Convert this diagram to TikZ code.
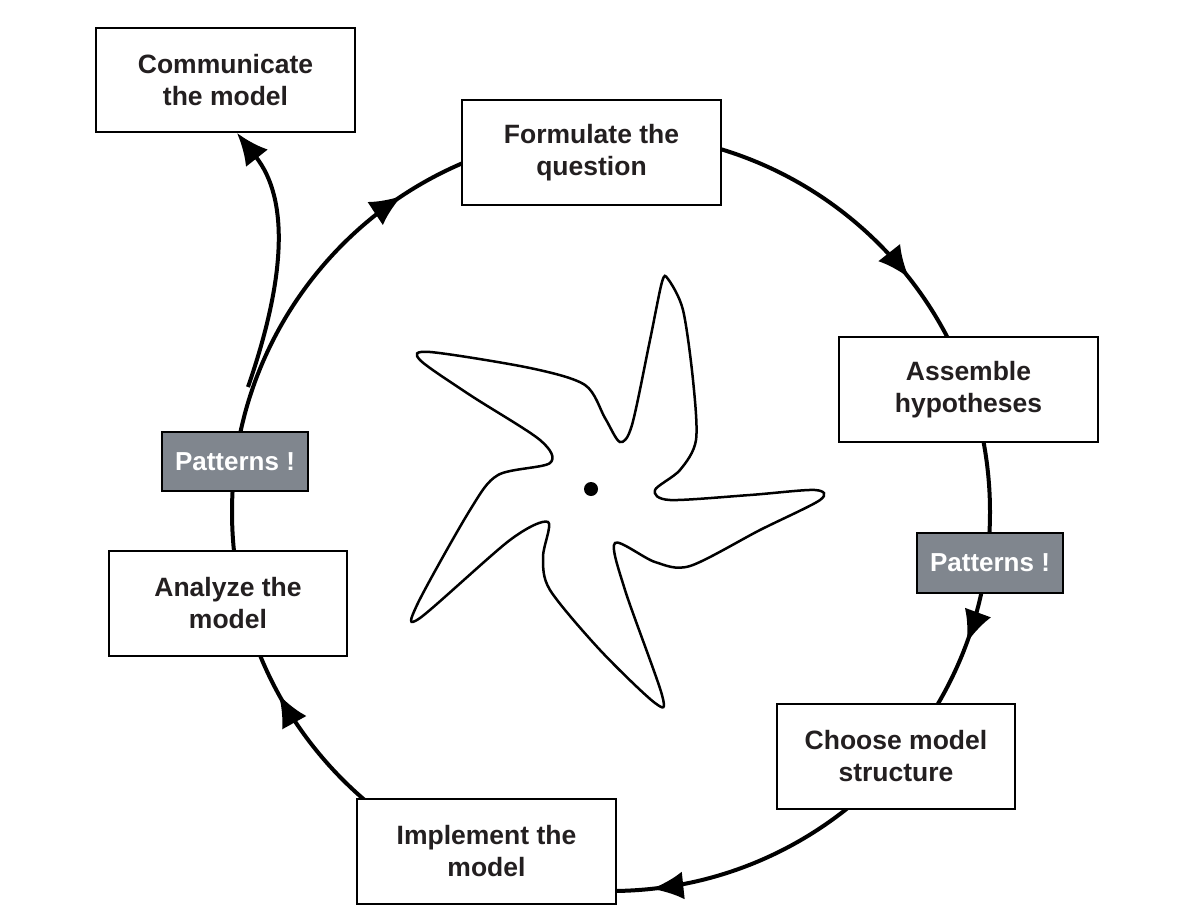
\documentclass[tikz,border=0pt]{standalone}
\usepackage{fontspec}
\setmainfont{Liberation Sans}
\usetikzlibrary{decorations.markings,arrows.meta}
\definecolor{pg}{RGB}{128,134,142}
\definecolor{tx}{RGB}{35,31,32}
\begin{document}
\begin{tikzpicture}[x=1pt,y=-1pt,
  box/.style={draw=black,line width=2pt,fill=white,align=center,text=tx,font=\fontsize{26.5}{32}\selectfont\bfseries,inner sep=0pt},
  pat/.style={draw=black,line width=2pt,fill=pg,text=white,font=\fontsize{26}{30}\selectfont\bfseries,inner sep=0pt},
  tip/.style={-{Latex[length=32pt,width=28pt]}},
  mk/.style={postaction={decorate},decoration={markings,
     mark=at position 0.056 with {\arrow{Latex[length=32pt,width=28pt]}},
     mark=at position 0.233 with {\arrow{Latex[length=32pt,width=28pt]}},
     mark=at position 0.42 with {\arrow{Latex[length=32pt,width=28pt]}},
     mark=at position 0.657 with {\arrow{Latex[length=32pt,width=28pt]}},
     mark=at position 0.894 with {\arrow{Latex[length=32pt,width=28pt]}}}}]
\useasboundingbox (0,0) rectangle (1194,915);
\coordinate (c) at (611,512);
\draw[line width=4pt,mk] (c) circle[radius=379];
\coordinate (br) at (248,387);
\node[box,minimum width=259,minimum height=104] (comm) at (225.5,80) {Communicate\\the model};
\draw[line width=4pt,tip] (br) .. controls (285,280) and (290,200) .. (comm.south -| 237,0);
\node[box,minimum width=259,minimum height=105] (form) at (591.5,152.5) {Formulate the\\question};
\node[box,minimum width=259,minimum height=105] (ass) at (968.5,389.5) {Assemble\\hypotheses};
\node[pat,minimum width=146,minimum height=60] (p1) at (990,563) {Patterns !};
\node[box,minimum width=238,minimum height=105] (cho) at (896,756.5) {Choose model\\structure};
\node[box,minimum width=259,minimum height=105] (imp) at (486.5,851.5) {Implement the\\model};
\node[box,minimum width=238,minimum height=105] (ana) at (228,603.5) {Analyze the\\model};
\node[pat,minimum width=146,minimum height=59] (p2) at (235,461.5) {Patterns !};
\draw[line width=2.5pt] plot[smooth cycle,tension=0.5] coordinates {
(668,279) (683,310) (693,380) (696,440) (680,470) (655,490) (670,500) (750,495) (815,490) (820,500) (760,530) (690,566) (655,562) (615,543) (625,590) (662,695) (655,703) (600,650) (550,590) (543,557) (548,522) (510,540) (420,618) (417,605) (470,510) (498,475) (550,463) (540,440) (470,395) (420,360) (430,352) (530,368) (585,385) (605,418) (620,442) (632,425) (650,340) (662,282)};
\fill (591,489) circle[radius=7];
\end{tikzpicture}
\end{document}
